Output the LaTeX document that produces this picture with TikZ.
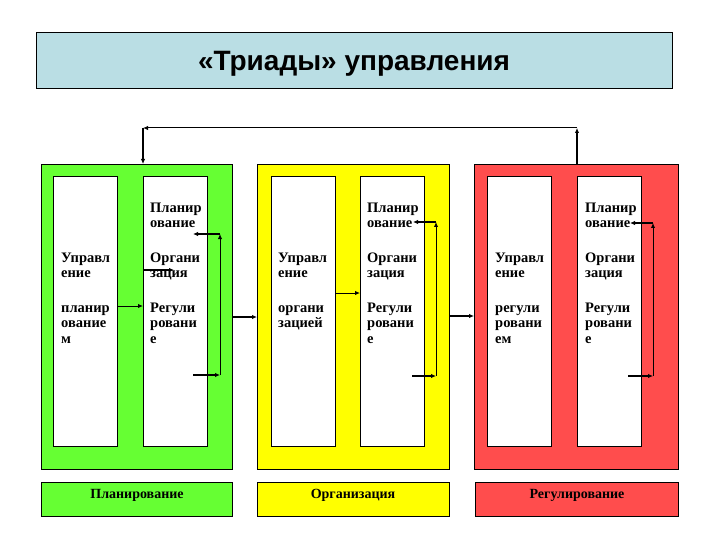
\documentclass[tikz,border=0pt]{standalone}
\usepackage{fontspec}
\setmainfont{Liberation Serif}
\newfontfamily\titlefont{Liberation Sans}
\usetikzlibrary{arrows.meta}
\definecolor{gfill}{RGB}{102,255,51}
\definecolor{yfill}{RGB}{255,255,0}
\definecolor{rfill}{RGB}{255,77,77}
\definecolor{tfill}{RGB}{186,222,228}
\newcommand\twoln[2]{\vtop{\hbox{#1}\hbox{#2}}}
\newcommand\threeln[3]{\vtop{\hbox{#1}\hbox{#2}\hbox{#3}}}
\begin{document}
\begin{tikzpicture}[x=1pt,y=-1pt,
  frame/.style={draw=black, line width=0.9pt, inner sep=0pt, anchor=north west},
  panel/.style={frame, minimum height=305pt},
  col/.style={frame, fill=white, minimum width=64pt, minimum height=270pt},
  legend/.style={frame, minimum height=34pt},
  txt/.style={font=\bfseries\fontsize{14.5}{15.8}\selectfont, anchor=base west, inner sep=0pt},
  lbl/.style={font=\bfseries\fontsize{14}{16}\selectfont, anchor=base, inner sep=0pt},
  arr/.style={-{Latex[length=5pt,width=4.5pt]}, line width=1.6pt},
  thinarr/.style={-{Latex[length=5pt,width=4.5pt]}, line width=1pt}
]
\useasboundingbox (0,0) rectangle (720,540);

% title
\node[frame, fill=tfill, minimum width=636pt, minimum height=56pt] (T) at (36,32) {};
\node[font=\titlefont\bfseries\fontsize{28}{30}\selectfont, anchor=base] (Tt) at (354,71) {«Триады» управления};

% panels
\node[panel, fill=gfill, minimum width=191pt] (G) at (41,164) {};
\node[panel, fill=yfill, minimum width=192pt] (Y) at (257,164) {};
\node[panel, fill=rfill, minimum width=204pt] (R) at (474,164) {};

% white columns
\node[col] (G1) at (53,176) {};
\node[col] (G2) at (143,176) {};
\node[col] (Y1) at (271,176) {};
\node[col] (Y2) at (360,176) {};
\node[col] (R1) at (487,176) {};
\node[col] (R2) at (577,176) {};

% texts green
\node[txt] (g1a) at (61,262) {\twoln{Управл}{ение}};
\node[txt] (g1b) at (61,312) {\threeln{планир}{ование}{м}};
\node[txt] (g2a) at (150,212) {\twoln{Планир}{ование}};
\node[txt] (g2b) at (150,262) {\twoln{Органи}{зация}};
\node[txt] (g2c) at (150,312) {\threeln{Регули}{ровани}{е}};
% texts yellow
\node[txt] (y1a) at (278,262) {\twoln{Управл}{ение}};
\node[txt] (y1b) at (278,312) {\twoln{органи}{зацией}};
\node[txt] (y2a) at (367,212) {\twoln{Планир}{ование}};
\node[txt] (y2b) at (367,262) {\twoln{Органи}{зация}};
\node[txt] (y2c) at (367,312) {\threeln{Регули}{ровани}{е}};
% texts red
\node[txt] (r1a) at (495,262) {\twoln{Управл}{ение}};
\node[txt] (r1b) at (495,312) {\threeln{регули}{ровани}{ем}};
\node[txt] (r2a) at (585,212) {\twoln{Планир}{ование}};
\node[txt] (r2b) at (585,262) {\twoln{Органи}{зация}};
\node[txt] (r2c) at (585,312) {\threeln{Регули}{ровани}{е}};

% legends
\node[legend, fill=gfill, minimum width=191pt] (GL) at (41,482) {};
\node[legend, fill=yfill, minimum width=192pt] (YL) at (257,482) {};
\node[legend, fill=rfill, minimum width=203pt] (RL) at (475,482) {};
\node[lbl] (GLt) at (137,498) {Планирование};
\node[lbl] (YLt) at (353,498) {Организация};
\node[lbl] (RLt) at (577,498) {Регулирование};

% top feedback connector
\coordinate (tr) at (577,128);
\coordinate (tl) at (143,128);
\draw[arr] (R.north -| tr) -- (tr);
\draw[thinarr] (tr) -- (tl);
\draw[arr] (tl) -- (G.north -| tl);

% panel to panel
\draw[arr] (G.east |- 0,317) -- (Y.west |- 0,317);
\draw[arr] (Y.east |- 0,316) -- (R.west |- 0,316);

% inside green
\draw[thinarr] (G1.east |- 0,306) -- (G2.west |- 0,306);
\coordinate (gz) at (174,270);
\draw[arr] (G2.west |- gz) -- (gz);
\coordinate (gb0) at (193,375);
\coordinate (gb1) at (220,375);
\coordinate (gt1) at (220,234);
\coordinate (gt0) at (193,234);
\draw[arr] (gb0) -- (gb1);
\draw[thinarr] (gb1) -- (gt1);
\draw[arr] (gt1) -- (gt0);

% inside yellow
\draw[thinarr] (Y1.east |- 0,293) -- (Y2.west |- 0,293);
\coordinate (yb0) at (412,376);
\coordinate (yb1) at (436,376);
\coordinate (yt1) at (436,222);
\coordinate (yt0) at (413,222);
\draw[arr] (yb0) -- (yb1);
\draw[thinarr] (yb1) -- (yt1);
\draw[arr] (yt1) -- (yt0);

% inside red
\coordinate (rb0) at (628,376);
\coordinate (rb1) at (653,376);
\coordinate (rt1) at (653,223);
\coordinate (rt0) at (630,223);
\draw[arr] (rb0) -- (rb1);
\draw[thinarr] (rb1) -- (rt1);
\draw[arr] (rt1) -- (rt0);
\end{tikzpicture}
\end{document}
